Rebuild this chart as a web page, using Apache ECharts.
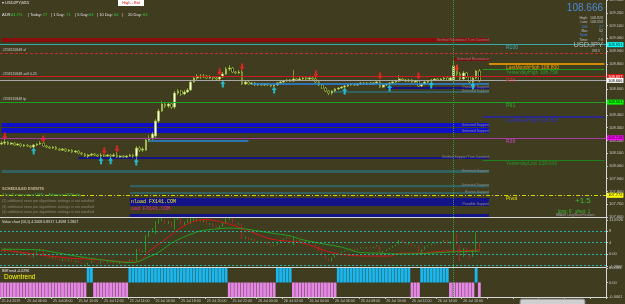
<!DOCTYPE html>
<html>
<head>
<meta charset="utf-8">
<script src="https://cdn.jsdelivr.net/npm/echarts@6/dist/echarts.min.js"></script>
<style>
html,body{margin:0;padding:0;background:#403c20;overflow:hidden;}
#chart{width:625px;height:304px;}
</style>
</head>
<body>
<div id="chart"></div>
<script>
// ---------- time axis labels (one every 8 bars of M15) ----------
const timeLabels = ['25 Jul 2019','25 Jul 06:00','25 Jul 08:00','25 Jul 10:00','25 Jul 12:00','25 Jul 14:00','25 Jul 16:00','25 Jul 18:00','25 Jul 20:00','25 Jul 22:00','26 Jul 00:00','26 Jul 02:00','26 Jul 04:00','26 Jul 06:00','26 Jul 08:00','26 Jul 10:00','26 Jul 12:00','26 Jul 14:00','26 Jul 16:00'];
const slotCount = 189;
const barsPerLabel = 8;

// ---------- USDJPY M15 candles ----------
const opens = [
108.171,108.179,108.187,108.171,108.179,108.164,108.171,108.156,108.164,108.156,
108.148,108.164,108.171,108.179,108.156,108.148,108.140,108.148,108.132,108.124,
108.132,108.117,108.124,108.109,108.117,108.101,108.093,108.077,108.085,108.093,
108.085,108.077,108.085,108.077,108.085,108.077,108.085,108.070,108.077,108.070,
108.077,108.085,108.077,108.140,108.124,108.124,108.203,108.219,108.234,108.352,
108.430,108.485,108.469,108.485,108.461,108.571,108.587,108.563,108.579,108.595,
108.657,108.689,108.704,108.697,108.704,108.689,108.697,108.689,108.681,108.697,
108.720,108.759,108.767,108.736,108.728,108.736,108.642,108.657,108.642,108.650,
108.634,108.642,108.634,108.642,108.634,108.626,108.634,108.650,108.657,108.665,
108.673,108.665,108.681,108.673,108.681,108.689,108.681,108.689,108.681,108.657,
108.634,108.610,108.587,108.571,108.587,108.603,108.610,108.618,108.626,108.634,
108.642,108.634,108.642,108.650,108.642,108.650,108.642,108.650,108.657,108.618,
108.634,108.642,108.650,108.657,108.665,108.681,108.673,108.665,108.673,108.657,
108.665,108.626,108.642,108.657,108.665,108.673,108.681,108.673,108.681,108.689,
108.673,108.673,108.783,108.720,108.681,108.728,108.697,108.657,108.689,108.744];
const closes = [
108.179,108.187,108.171,108.179,108.164,108.171,108.156,108.164,108.156,108.148,
108.164,108.171,108.179,108.156,108.148,108.140,108.148,108.132,108.124,108.132,
108.117,108.124,108.109,108.117,108.101,108.093,108.077,108.085,108.093,108.085,
108.077,108.085,108.077,108.085,108.077,108.085,108.070,108.077,108.070,108.077,
108.085,108.077,108.140,108.124,108.132,108.203,108.219,108.250,108.352,108.430,
108.485,108.469,108.485,108.461,108.571,108.587,108.563,108.579,108.595,108.657,
108.689,108.704,108.697,108.704,108.689,108.697,108.689,108.681,108.697,108.720,
108.759,108.767,108.736,108.728,108.736,108.642,108.657,108.642,108.650,108.634,
108.642,108.634,108.642,108.634,108.626,108.634,108.650,108.657,108.665,108.673,
108.665,108.681,108.673,108.681,108.689,108.681,108.689,108.681,108.657,108.634,
108.610,108.587,108.571,108.587,108.603,108.610,108.618,108.626,108.634,108.642,
108.634,108.642,108.650,108.642,108.650,108.642,108.650,108.657,108.618,108.634,
108.642,108.650,108.657,108.665,108.681,108.673,108.665,108.673,108.657,108.665,
108.626,108.642,108.657,108.665,108.673,108.681,108.673,108.681,108.689,108.673,
108.689,108.783,108.720,108.681,108.728,108.697,108.657,108.689,108.744,108.665];
const highs = [
108.195,108.211,108.195,108.187,108.187,108.179,108.179,108.171,108.171,108.164,
108.171,108.179,108.195,108.187,108.164,108.156,108.156,108.156,108.140,108.140,
108.140,108.132,108.132,108.124,108.124,108.109,108.101,108.093,108.101,108.101,
108.093,108.101,108.093,108.093,108.093,108.101,108.109,108.085,108.085,108.085,
108.093,108.093,108.156,108.156,108.148,108.219,108.242,108.266,108.367,108.446,
108.508,108.501,108.493,108.493,108.587,108.603,108.595,108.595,108.610,108.673,
108.704,108.720,108.720,108.720,108.712,108.712,108.704,108.704,108.704,108.736,
108.775,108.791,108.775,108.744,108.751,108.751,108.665,108.665,108.657,108.657,
108.650,108.650,108.650,108.650,108.642,108.642,108.657,108.665,108.673,108.681,
108.681,108.751,108.689,108.697,108.697,108.697,108.704,108.697,108.697,108.665,
108.642,108.618,108.595,108.595,108.610,108.618,108.626,108.634,108.642,108.650,
108.650,108.650,108.657,108.657,108.657,108.657,108.657,108.665,108.673,108.642,
108.650,108.657,108.665,108.673,108.712,108.689,108.681,108.681,108.681,108.673,
108.673,108.650,108.665,108.673,108.681,108.689,108.689,108.689,108.697,108.697,
108.697,108.822,108.791,108.736,108.744,108.736,108.704,108.697,108.751,108.759];
const lows = [
108.164,108.164,108.164,108.164,108.156,108.156,108.148,108.148,108.148,108.140,
108.140,108.156,108.164,108.148,108.140,108.132,108.132,108.124,108.117,108.117,
108.109,108.109,108.101,108.101,108.093,108.085,108.070,108.062,108.077,108.077,
108.070,108.062,108.070,108.070,108.062,108.070,108.062,108.062,108.062,108.062,
108.070,108.062,108.054,108.109,108.109,108.117,108.187,108.203,108.211,108.336,
108.422,108.454,108.454,108.446,108.446,108.555,108.548,108.555,108.571,108.587,
108.650,108.673,108.681,108.689,108.681,108.681,108.673,108.673,108.665,108.689,
108.712,108.744,108.728,108.720,108.720,108.634,108.634,108.634,108.634,108.626,
108.626,108.626,108.626,108.626,108.618,108.618,108.626,108.642,108.650,108.657,
108.657,108.657,108.665,108.665,108.673,108.673,108.673,108.673,108.650,108.626,
108.603,108.579,108.555,108.555,108.579,108.595,108.603,108.610,108.618,108.626,
108.626,108.626,108.634,108.634,108.634,108.634,108.634,108.642,108.610,108.610,
108.626,108.634,108.642,108.650,108.657,108.665,108.657,108.657,108.650,108.650,
108.618,108.618,108.634,108.642,108.657,108.665,108.665,108.665,108.673,108.665,
108.665,108.657,108.704,108.673,108.673,108.689,108.650,108.650,108.681,108.657];

// ---------- signal arrows ----------
const sellArrowBars = [1,13,32,36,68,75,98,118,130,142];
const sellArrowPrices = [108.235,108.211,108.117,108.132,108.736,108.775,108.720,108.704,108.704,108.767];
const buyArrowBars = [10,31,34,42,69,85,107,121,134,147];
const buyArrowPrices = [108.117,108.040,108.040,108.030,108.642,108.595,108.587,108.610,108.634,108.626];

// ---------- price levels ----------
const levelLabels = ['R100','LastMonthHigh 108.800','YesterdayHigh 108.758','R76','R61','LastWeekHigh 108.383','R38','YesterdayLow 108.043','Pivot'];
const levelPrices = [108.951,108.800,108.758,108.697,108.501,108.383,108.218,108.043,107.772];
const levelFromBar = [0,152,150,0,0,150,0,150,0];
const orderLabels = ['#258115848 sl','#258115848 sell 0.25','#258115848 tp'];
const orderPrices = [108.881,108.697,108.501];
const bidPrice = 108.666;
const trendLinePrices = [108.642,108.195];
const trendLineFrom = [78,46];
const trendLineTo = [152,77];
const eventBar = 141;

// ---------- supply / demand zones ----------
const zoneTop    = [109.002,108.845,108.618,108.587,108.336,108.297,108.070,107.968,107.850,107.795,107.748,107.623];
const zoneBottom = [108.971,108.822,108.603,108.571,108.305,108.258,108.054,107.944,107.834,107.780,107.686,107.600];
const zoneFrom   = [0,141,120,103,0,0,24,0,40,40,40,40];
const zoneTo     = [152,152,152,152,152,152,152,152,152,152,152,152];
const zoneKind   = ['resV','res','supN','weak','sup','sup','supN','weak','weak','weak','supN','supN'];
const zoneText   = ['Verified Resistance Turn Counted','Untested Resistance','Possible Support','Untested Support','Untested Support','Untested Support','Verified Support Turn Counted','Untested Support','Untested Support','Proven Support','Possible Support',''];

// ---------- Value chart ----------
const vcOpen = [
1.5,0.8,2.0,1.0,1.6,0.3,1.0,-0.3,0.5,-0.5,
-1.2,0.2,1.0,1.8,-0.4,-1.0,-1.6,-0.8,-1.9,-2.4,
-1.6,-2.5,-1.8,-2.9,-2.2,-3.0,-3.4,-4.0,-3.0,-2.2,
-2.8,-3.3,-2.5,-3.1,-2.4,-3.2,-2.3,-3.4,-2.8,-3.3,
-2.6,-1.9,-2.6,1.8,0.6,0.5,6.0,7.5,7.0,10.5,
11.5,12.0,10.5,11.2,8.5,11.8,12.2,10.0,10.8,10.5,
11.5,11.8,12.0,11.0,11.8,10.2,10.8,9.5,9.0,9.5,
10.5,11.8,12.3,10.6,10.2,10.5,5.2,6.0,4.8,5.3,
4.2,4.6,3.8,4.2,3.4,2.8,3.2,4.2,4.8,5.3,
5.8,3.0,5.0,4.2,4.8,4.0,4.5,3.8,4.3,2.8,
1.0,-0.5,-1.6,-2.5,-1.2,-0.2,0.2,0.8,1.2,1.5,
1.9,1.4,1.8,2.3,1.9,2.4,2.0,2.5,3.0,0.2,
1.1,1.6,2.2,2.8,3.3,4.8,4.0,3.3,3.8,2.6,
3.0,0.5,1.6,2.6,3.0,3.6,4.1,3.6,4.2,4.8,
3.6,0.5,7.0,3.0,-1.0,2.0,0.0,-1.0,0.5,4.0];
const vcClose = [
0.8,2.0,1.0,1.6,0.3,1.0,-0.3,0.5,-0.5,-1.2,
0.2,1.0,1.8,-0.4,-1.0,-1.6,-0.8,-1.9,-2.4,-1.6,
-2.5,-1.8,-2.9,-2.2,-3.0,-3.4,-4.0,-3.0,-2.2,-2.8,
-3.3,-2.5,-3.1,-2.4,-3.2,-2.3,-3.4,-2.8,-3.3,-2.6,
-1.9,-2.6,1.8,0.6,1.2,6.5,8.0,9.0,11.5,12.3,
12.4,10.5,11.5,9.5,12.3,12.4,10.0,11.2,12.0,12.5,
12.4,12.3,11.0,11.8,10.2,10.8,9.5,9.0,9.8,11.0,
12.4,12.5,10.6,10.0,10.8,5.2,6.0,4.8,5.3,4.2,
4.6,3.8,4.2,3.4,2.8,3.2,4.2,4.8,5.3,5.8,
5.2,6.0,4.2,4.8,4.0,4.5,3.8,4.3,2.8,1.0,
-0.5,-1.6,-2.5,-1.2,-0.2,0.2,0.8,1.2,1.5,1.9,
1.4,1.8,2.3,1.9,2.4,2.0,2.5,3.0,0.2,1.1,
1.6,2.2,2.8,3.3,4.8,4.0,3.3,3.8,2.6,3.0,
0.5,1.6,2.6,3.0,3.6,4.1,3.6,4.2,4.8,3.6,
4.5,8.0,3.0,-2.5,2.0,0.0,-1.5,1.5,7.5,0.6];
const maRedBars = [0,6,12,21,31,40,43,46,50,54,59,64,67,71,78,84,90,93,96,103,109,115,121,124,131,137,143,149];
const maRedVals = [1.4,0.6,-0.3,-1.4,-2.0,-2.8,-2.5,1.0,4.2,7.6,11.0,12.0,11.5,10.4,7.6,5.2,4.4,4.0,3.1,0.45,-0.5,-0.7,-0.7,0.3,0.3,1.0,1.1,1.4];
const maGreenBars = [0,6,12,18,21,26,31,36,40,43,45,48,50,53,57,62,67,71,76,80,84,90,93,99,106,112,118,124,134,140,149];
const maGreenVals = [1.7,1.6,1.4,0.3,-0.3,-1.2,-2.0,-2.6,-3.0,-2.5,-1.4,0.0,1.4,3.8,6.0,8.0,8.7,9.0,8.7,8.0,7.3,6.3,5.2,3.8,2.4,0.5,0.3,0.0,0.3,0.7,1.0];
const vcLevels = [8,4,0,-4];
const vcAxisValues = [-4.2962,0,4,8,11.6926];
const vcAxisLabels = ['-4.2962','0.00','4','8','11.6926'];

// ---------- BB trend histogram ----------
const U = 0.0001, D = -0.0001;
const trendValues = [
D,D,D,D,D,D,D,D,D,D,
D,D,D,D,D,D,D,D,D,D,
D,D,D,D,D,D,D,U,U,D,
D,D,D,D,D,D,D,D,D,D,
U,U,U,U,U,U,U,U,U,U,
U,U,U,U,U,U,U,U,U,U,
U,U,U,U,U,U,U,U,U,U,
U,D,D,D,D,D,D,D,D,D,
D,D,D,D,D,D,U,U,U,U,
U,D,D,D,D,D,D,D,D,D,
D,D,D,D,D,U,U,U,U,U,
U,U,U,U,U,U,U,U,U,U,
U,U,U,U,U,U,U,U,D,D,
D,U,U,U,U,U,U,U,U,U,
D,D,D,D,D,D,D,D,U,D];

// =================== build chart ===================
const FONT = 'Liberation Sans';
const AX = '#c8c8c8';
const HIDDEN = 'rgba(0,0,0,0)';
const cats = Array.from({length: slotCount}, (_, i) => String(i));
const lastSlot = String(slotCount - 1);
const ARROW = 'path://M5,0L10,5L7,5L7,10L3,10L3,5L0,5Z';

const levelStyle = [
  {c:'#3aa8a8', t:'#3cb4b4', w:1, type:'solid', box:'#00ffff', boxText:'#000'},
  {c:'#ffa500', t:'#e8a000', w:1.5, type:'solid'},
  {c:'#1e9a1e', t:'#2aa02a', w:1, type:'solid'},
  {c:'#c81e1e', t:'#d83030', w:1, type:'solid', box:'#e01010', boxText:'#fff'},
  {c:'#20a020', t:'#30b030', w:1, type:'solid', box:'#00ff00', boxText:'#000'},
  {c:'#2424a8', t:'#3030c0', w:1.5, type:'solid'},
  {c:'#a43ca4', t:'#c848c8', w:1, type:'solid', box:'#ff00ff', boxText:'#000'},
  {c:'#1e801e', t:'#2a902a', w:1, type:'solid'},
  {c:'#d8d800', t:'#e8e800', w:1, type:[4,2,1,2], box:'#ffff00', boxText:'#000'}
];
const zoneColors = {resV:'#8a0c0c', res:'#7a1010', supN:'#141488', weak:'#33615f', sup:'#1010c8'};

const mainLines = [];
levelPrices.forEach((p, i) => {
  const s = levelStyle[i];
  const ls = {color: s.c, width: s.w, type: s.type};
  if (levelFromBar[i] === 0) {
    mainLines.push({yAxis: p, lineStyle: ls,
      label: s.box ? {show:true, position:'end', distance:1, formatter: p.toFixed(3), backgroundColor: s.box, color: s.boxText, fontSize:4, fontFamily:FONT, padding:[1,1,0,1]} : {show:false}});
  } else {
    mainLines.push([{coord:[String(levelFromBar[i]), p], lineStyle: ls, label:{show:false}}, {coord:[lastSlot, p]}]);
  }
  mainLines.push([{coord:['157', p], lineStyle:{color: HIDDEN, width:1}, label:{show:true, position:'insideStartBottom', distance:1, formatter: levelLabels[i], color: s.t, fontSize:5, fontFamily:FONT}}, {coord:[lastSlot, p]}]);
});
orderPrices.forEach((p, i) => {
  if (i === 0) mainLines.push({yAxis: p, lineStyle:{color:'#c03030', width:1, type:[3,2]}, label:{show:false}});
  mainLines.push([{coord:['0', p], lineStyle:{color: HIDDEN, width:1}, label:{show:true, position:'insideStartTop', distance:1, formatter: orderLabels[i], color:'#d0d0d0', fontSize:3.6, fontFamily:FONT}}, {coord:['40', p]}]);
});
mainLines.push({yAxis: bidPrice, lineStyle:{color:'#a8a8a8', width:1, type:'solid'},
  label:{show:true, position:'end', distance:1, formatter: bidPrice.toFixed(3), backgroundColor:'#ffffff', color:'#000', fontSize:4, fontFamily:FONT, padding:[1,1,0,1]}});
trendLinePrices.forEach((p, i) => {
  mainLines.push([{coord:[String(trendLineFrom[i]), p], lineStyle:{color:'#2a86e0', width:1.5, type:'solid'}, label:{show:false}}, {coord:[String(trendLineTo[i]), p]}]);
});
mainLines.push({xAxis: String(eventBar), lineStyle:{color:'#3c9a3c', width:1, type:'dotted'}, label:{show:false}});

const zones = zoneTop.map((t, i) => [
  {coord:[String(zoneFrom[i]), t], itemStyle:{color: zoneColors[zoneKind[i]]},
   label: zoneText[i] ? {show:true, position:'insideBottomRight', formatter: zoneText[i], color:'#8c8c8c', fontSize:3.5, fontFamily:FONT, distance:0} : {show:false}},
  {coord:[String(zoneTo[i]), zoneBottom[i]]}
]);

const candleData = opens.map((o, i) => [o, closes[i], lows[i], highs[i]]);
const vcData = vcOpen.map((o, i) => [o, vcClose[i], Math.min(o, vcClose[i]), Math.max(o, vcClose[i])]);

// graphics (text overlays of the terminal)
const g = [];
function txt(x, y, text, fill, size, align, family, weight) {
  g.push({type:'text', x:x, y:y, z:100, silent:true,
    style:{text:text, fill:fill, fontSize:size, fontFamily: family || FONT, fontWeight: weight || 'normal', align: align || 'left', verticalAlign:'top'}});
}
txt(2, 1, '\u25BE USDJPY,M15', '#e8e8e8', 4);
const adrParts = [['ADR:',2,'#e0e0e0'],['44.7%',11,'#33cc33'],['| Today:',28,'#e0e0e0'],['27',43,'#33cc33'],['| 1 Day:',51,'#e0e0e0'],['71',66,'#33cc33'],['| 5 Day:',75,'#e0e0e0'],['63',89,'#33cc33'],['| 10 Day:',97,'#e0e0e0'],['64',114,'#33cc33'],['|',122,'#e0e0e0'],['20 Day:',128,'#e0e0e0'],['63',143,'#33cc33']];
adrParts.forEach(a => txt(a[1], 12.5, a[0], a[2], 4));
g.push({type:'rect', z:99, silent:true, shape:{x:118, y:0, width:26, height:6}, style:{fill:'#ffffff'}});
txt(131, 1, 'High - Bid', '#e01010', 4, 'center');
txt(603, 3, '108.666', '#4a8cd6', 10, 'right');
const infoL = ['High:','Low:','Diff:','Bar:','Sprd:','Time:'];
const infoV = ['108.828','108.553','27','52','1','7:8'];
const infoY = [15.5,20,24.5,29,33,37.5];
infoL.forEach((l, i) => {
  const col = (i === 2 || i === 4) ? '#3c82dc' : '#c0c0c0';
  txt(588, infoY[i], l, col, 3.6, 'right');
  txt(603, infoY[i], infoV[i], col, 3.6, 'right');
});
txt(603, 40.5, 'USDJPY', '#b8b8b8', 7.5, 'right');
txt(600, 49, 'M15', '#b8b8b8', 4, 'right');
txt(2, 187, 'SCHEDULED EVENTS', '#c8bc96', 4, 'left', FONT, 'bold');
txt(2, 193, '2 hrs 5 mins since USD = Advance GDP q/q', '#40c040', 4);
txt(2, 199, '(2) additional news per algorithmic settings is not satisfied', '#8a8a78', 3.6);
txt(2, 204.5, '(3) additional news per algorithmic settings is not satisfied', '#8a8a78', 3.6);
txt(2, 210, '(4) additional news per algorithmic settings is not satisfied', '#8a8a78', 3.6);
txt(131, 199.5, 'nload FX141.COM', '#e8e830', 5, 'left', 'Liberation Mono');
txt(131, 206.5, 'oad FX141.COM', '#e0309a', 5, 'left', 'Liberation Mono');
txt(575, 197, '+1.5', '#36c036', 8);
txt(558, 209, 'long: 0   short: 1', '#36c036', 4.5);
txt(556, 214, 'BBAlert Long/Short Positions', '#a0a0a0', 3);
txt(2, 219.5, 'Value chart (10,1) 4.2008 0.8917 1.4598 1.2807', '#e0e0e0', 3.6);
txt(2, 269, 'BBTrend -0.0296', '#e0e0e0', 3.6);
txt(4, 273.5, 'Downtrend', '#ffff00', 6.5);
g.push({type:'rect', z:99, silent:true, shape:{x:520, y:299, width:65, height:10, r:2}, style:{fill:'#cfcfcf', stroke:'#7a7a7a', lineWidth:1}});

const xAxes = [0,1,2].map(gi => ({
  type:'category', gridIndex: gi, data: cats, boundaryGap: true,
  axisLine:{show:true, onZero:false, lineStyle:{color:'#d8d8d8', width:1}},
  axisTick:{show: gi === 2, interval: (i) => i % barsPerLabel === 0, length:2, lineStyle:{color: AX}},
  axisLabel:{show: gi === 2, interval: 0, align:'left', margin:2, fontSize:3.6, color: AX, fontFamily: FONT,
    formatter: (v, i) => (i % barsPerLabel === 0 && timeLabels[i / barsPerLabel]) ? timeLabels[i / barsPerLabel] : ''},
  splitLine:{show:false}
}));

const option = {
  backgroundColor:'#403c20',
  animation:false,
  textStyle:{fontFamily: FONT},
  graphic: g,
  grid:[
    {left:0, right:19, top:0, height:217, containLabel:false, outerBoundsMode:'none'},
    {left:0, right:19, top:218, height:49, containLabel:false, outerBoundsMode:'none'},
    {left:0, right:19, top:268, height:29, containLabel:false, outerBoundsMode:'none'}
  ],
  xAxis: xAxes,
  yAxis:[
    {type:'value', gridIndex:0, position:'right', min:107.6, max:109.3, interval:0.1,
     axisLine:{show:true, lineStyle:{color:'#d8d8d8'}}, axisTick:{show:true, length:2, lineStyle:{color:AX}},
     axisLabel:{fontSize:4, color:AX, margin:3, fontFamily:FONT, formatter: v => v.toFixed(3)}, splitLine:{show:false}},
    {type:'value', gridIndex:1, position:'right', min:-4.5, max:12.5,
     axisLine:{show:true, lineStyle:{color:'#d8d8d8'}},
     axisTick:{show:true, length:2, customValues: vcAxisValues, lineStyle:{color:AX}},
     axisLabel:{customValues: vcAxisValues, fontSize:4, color:AX, margin:3, fontFamily:FONT,
       formatter: v => { const k = vcAxisValues.findIndex(a => Math.abs(a - v) < 1e-6); return k >= 0 ? vcAxisLabels[k] : ''; }},
     splitLine:{show:false}},
    {type:'value', gridIndex:2, position:'right', min:-0.0001, max:0.0001, interval:0.0001,
     axisLine:{show:true, lineStyle:{color:'#d8d8d8'}}, axisTick:{show:true, length:2, lineStyle:{color:AX}},
     axisLabel:{fontSize:4, color:AX, margin:3, fontFamily:FONT, formatter: v => Math.abs(v) < 1e-9 ? '0.00' : v.toFixed(4)},
     splitLine:{show:false}}
  ],
  series:[
    {type:'candlestick', name:'USDJPY,M15', xAxisIndex:0, yAxisIndex:0, data: candleData, barWidth:2.2,
     itemStyle:{color:'#ffffff', color0:'#000000', borderColor:'#a4c43c', borderColor0:'#a4c43c', borderWidth:0.7},
     markArea:{silent:true, data: zones},
     markLine:{silent:true, symbol:['none','none'], data: mainLines}},
    {type:'scatter', xAxisIndex:0, yAxisIndex:0, symbol: ARROW, symbolSize:[5,7], symbolRotate:180, z:5,
     data: sellArrowBars.map((b, i) => [String(b), sellArrowPrices[i]]), itemStyle:{color:'#ff2222'}},
    {type:'scatter', xAxisIndex:0, yAxisIndex:0, symbol: ARROW, symbolSize:[5,7], z:5,
     data: buyArrowBars.map((b, i) => [String(b), buyArrowPrices[i]]), itemStyle:{color:'#22d8f0'}},
    {type:'candlestick', name:'Value chart', xAxisIndex:1, yAxisIndex:1, data: vcData, barWidth:1.3,
     itemStyle:{color:'#22cc22', color0:'#e02020', borderColor:'#22cc22', borderColor0:'#e02020', borderWidth:0.6},
     markLine:{silent:true, symbol:['none','none'], label:{show:false},
       data: vcLevels.map(v => ({yAxis:v, lineStyle:{color:'#1fb5a8', type:[2,2], width:1}}))
         .concat([{xAxis:String(eventBar), lineStyle:{color:'#3c9a3c', width:1, type:'dotted'}}])}},
    {type:'line', xAxisIndex:1, yAxisIndex:1, showSymbol:false, smooth:0.3,
     data: maRedBars.map((b, i) => [String(b), maRedVals[i]]), lineStyle:{color:'#d01818', width:1}},
    {type:'line', xAxisIndex:1, yAxisIndex:1, showSymbol:false, smooth:0.3,
     data: maGreenBars.map((b, i) => [String(b), maGreenVals[i]]), lineStyle:{color:'#22a022', width:1}},
    {type:'bar', name:'BBTrend', xAxisIndex:2, yAxisIndex:2, data: trendValues, barCategoryGap:'12%',
     itemStyle:{color: p => p.value > 0 ? '#1ab6ee' : '#e686e6'},
     markLine:{silent:true, symbol:['none','none'], label:{show:false},
       data:[{xAxis:String(eventBar), lineStyle:{color:'#3c9a3c', width:1, type:'dotted'}}]}}
  ]
};

const chart = echarts.init(document.getElementById('chart'), null, {renderer:'canvas'});
chart.setOption(option);
</script>
</body>
</html>
